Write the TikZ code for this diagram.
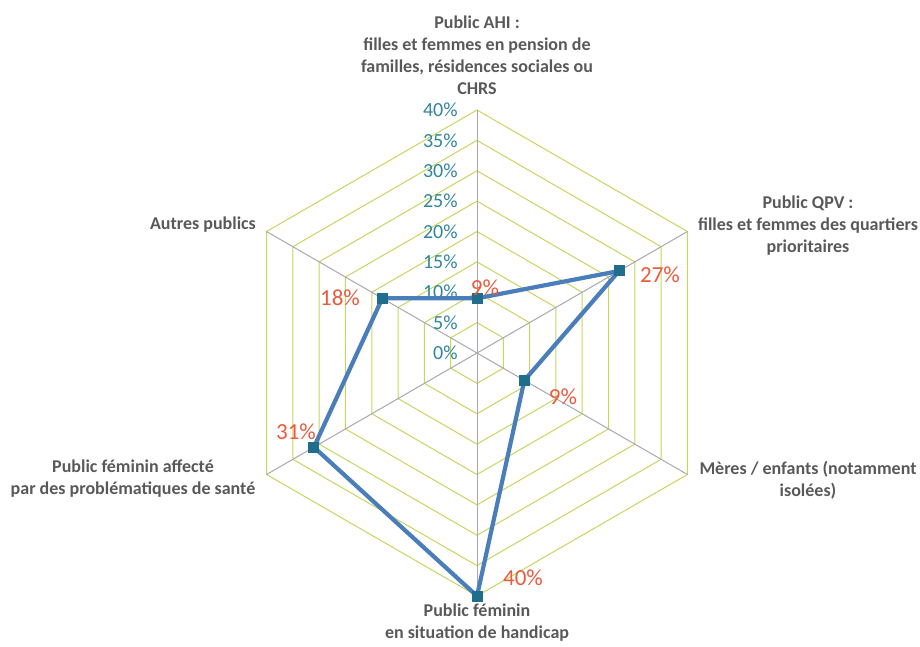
\documentclass[tikz,border=0pt]{standalone}
\usepackage{fontspec}
\setmainfont{Carlito}
\usepackage{tikz}
\usetikzlibrary{shapes}
\usetikzlibrary{calc}
\definecolor{grille}{HTML}{C6D65E}
\definecolor{rayon}{HTML}{A8A8B0}
\definecolor{serie}{HTML}{4A7EBB}
\definecolor{marque}{HTML}{1F6E8C}
\definecolor{valeur}{HTML}{EB5A3C}
\definecolor{echelle}{HTML}{31859C}
\definecolor{titre}{HTML}{595959}
\tikzstyle{categorie}=[align=center,text=titre,inner sep=0pt,
        font=\fontsize{9}{11}\selectfont\bfseries]
\tikzstyle{graduation}=[anchor=east,text=echelle,inner sep=0pt,
        font=\fontsize{10}{11}\selectfont]
\tikzstyle{point}=[rectangle,fill=marque,minimum size=5.5pt,inner sep=0pt]
\tikzstyle{etiquette}=[text=valeur,inner sep=0pt,font=\fontsize{11.5}{12}\selectfont]
\tikzstyle{anneau}=[draw=grille,line width=0.5pt]
\tikzstyle{axe}=[draw=rayon,line width=0.5pt]
\tikzstyle{courbe}=[draw=serie,line width=2.1pt,line join=round]

\begin{document}
\begin{tikzpicture}[x=0.5pt,y=0.5pt]
\useasboundingbox (-477,-294) rectangle (443,353);
\coordinate (o) at (0,0);
%Grille
\foreach \k in {1,...,8}
  \draw[anneau] (90:{\k*30.375}) -- (30:{\k*30.375}) -- (-30:{\k*30.375})
    -- (-90:{\k*30.375}) -- (210:{\k*30.375}) -- (150:{\k*30.375}) -- cycle;
\foreach \a in {90,30,-30,-90,210,150}
  \draw[axe] (o) -- (\a:243);
\foreach \k [evaluate=\k as \v using int(5*\k)] in {0,...,8}
  \node[graduation] (g\k) at (-19,{\k*30.375}) {\v\%};
%Valeurs
\coordinate (v-ahi) at (90:54.68);
\coordinate (v-qpv) at (30:164.03);
\coordinate (v-meres) at (-30:54.68);
\coordinate (v-handicap) at (-90:243);
\coordinate (v-sante) at (210:188.33);
\coordinate (v-autres) at (150:109.35);
\draw[courbe] (v-ahi) -- (v-qpv) -- (v-meres) -- (v-handicap)
  -- (v-sante) -- (v-autres) -- cycle;
\node[point] (p-ahi) at (v-ahi) {};
\node[point] (p-qpv) at (v-qpv) {};
\node[point] (p-meres) at (v-meres) {};
\node[point] (p-handicap) at (v-handicap) {};
\node[point] (p-sante) at (v-sante) {};
\node[point] (p-autres) at (v-autres) {};
\node[etiquette] (e-ahi) at (8,65) {9\%};
\node[etiquette] (e-qpv) at (183,78) {27\%};
\node[etiquette] (e-meres) at (86,-44) {9\%};
\node[etiquette] (e-handicap) at (46,-225) {40\%};
\node[etiquette] (e-sante) at (-181,-79) {31\%};
\node[etiquette] (e-autres) at (-137,55) {18\%};
%Categories
\node[categorie] (c-ahi) at (0,298) {Public AHI :\\filles et femmes en pension de\\familles, résidences sociales ou\\CHRS};
\node[categorie] (c-qpv) at (331,127) {Public QPV :\\filles et femmes des quartiers\\prioritaires};
\node[categorie] (c-meres) at (331,-127) {Mères / enfants (notamment\\isolées)};
\node[categorie] (c-handicap) at (0,-270) {Public féminin\\en situation de handicap};
\node[categorie] (c-sante) at (-344,-126) {Public féminin affecté\\par des problématiques de santé};
\node[categorie] (c-autres) at (-274,128) {Autres publics};
\end{tikzpicture}
\end{document}
